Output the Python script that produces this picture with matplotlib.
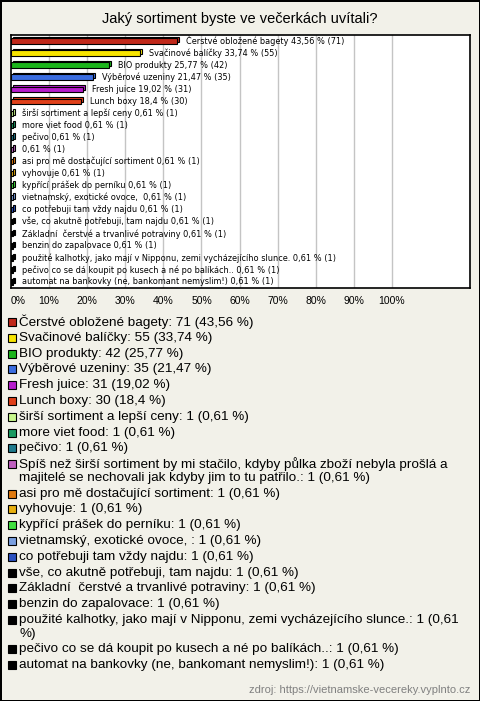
import matplotlib
matplotlib.use("Agg")
from matplotlib import pyplot as plt
from matplotlib.transforms import offset_copy

plt.rcParams['font.family'] = ['Liberation Sans', 'DejaVu Sans']

title = 'Jaký sortiment byste ve večerkách uvítali?'
source = 'zdroj: https://vietnamske-vecereky.vyplnto.cz'

labels = [
    'Čerstvé obložené bagety',
    'Svačinové balíčky',
    'BIO produkty',
    'Výběrové uzeniny',
    'Fresh juice',
    'Lunch boxy',
    'širší sortiment a lepší ceny',
    'more viet food',
    'pečivo',
    'Spíš než širší sortiment by mi stačilo, kdyby půlka zboží nebyla prošlá a majitelé se nechovali jak kdyby jim to tu patřilo.',
    'asi pro mě dostačující sortiment',
    'vyhovuje',
    'kypřící prášek do perníku',
    'vietnamský, exotické ovoce, ',
    'co potřebuji tam vždy najdu',
    'vše, co akutně potřebuji, tam najdu',
    'Základní  čerstvé a trvanlivé potraviny',
    'benzin do zapalovace',
    'použité kalhotky, jako mají v Nipponu, zemi vycházejícího slunce.',
    'pečivo co se dá koupit po kusech a né po balíkách..',
    'automat na bankovky (ne, bankomant nemyslim!)',
]
# labels shown next to the bars (one answer has no text there)
bar_labels = labels[:9] + [''] + labels[10:]
counts = [71, 55, 42, 35, 31, 30] + [1] * 15
percents = [43.56, 33.74, 25.77, 21.47, 19.02, 18.4] + [0.61] * 15
colors = ['#c0281a', '#f7e400', '#1cb51c', '#3b6de0', '#b51ccb', '#e0401a',
          '#c8f88c', '#1a9a62', '#1f7a8c', '#c060c0', '#e07a10', '#e8b010',
          '#40e040', '#7a9fe0', '#2a50c0'] + ['#000000'] * 6
ticks = [0, 10, 20, 30, 40, 50, 60, 70, 80, 90, 100]

W, H = 480, 701
bg = '#f2f1e9'


def fmt(p):
    return f'{p:g}'.replace('.', ',')


def px(x, y):
    return x / W, 1 - y / H


fig = plt.figure(figsize=(W / 100, H / 100), dpi=100, facecolor=bg)
fig.patch.set_edgecolor('black')
fig.patch.set_linewidth(2)

ax = fig.add_axes([11 / W, 1 - 288 / H, 459 / W, 253 / H])
ax.set_facecolor('white')
n = len(labels)
ypos = list(range(n))

# fake 3d: back copy shifted up-right, front face on top
back = offset_copy(ax.transData, fig=fig, x=2, y=1.5, units='dots')
ax.barh(ypos, percents, height=0.45, color=colors, edgecolor='black',
        linewidth=0.8, transform=back, zorder=3)
ax.barh(ypos, percents, height=0.45, color=colors, edgecolor='black',
        linewidth=0.8, zorder=4)

lab_tr = offset_copy(ax.transData, fig=fig, x=9, y=0, units='dots')
for i in range(n):
    txt = f'{bar_labels[i]} {fmt(percents[i])} % ({counts[i]})'.strip()
    ax.text(percents[i], i, txt, transform=lab_tr, fontsize=5.9,
            family=['DejaVu Sans'], va='center', ha='left', zorder=5)

ax.set_xlim(0, 120.5)
ax.set_ylim(n - 0.5, -0.5)
ax.set_yticks([])
ax.set_xticks(ticks)
ax.set_xticklabels([f'{t}%' for t in ticks], fontsize=7.5)
ax.get_xticklabels()[0].set_ha('left')
ax.tick_params(axis='x', length=0, pad=6)
for t in ticks[1:]:
    ax.axvline(t, color='#c4c4c4', linewidth=1, zorder=1)
for s in ax.spines.values():
    s.set_linewidth(1.2)

fig.text(*px(240, 19), title, fontsize=10.5, ha='center', va='center')

# legend below the chart
renderer = fig.canvas.get_renderer()
max_w = 440
y = 322
for i in range(n):
    entry = f'{labels[i]}: {counts[i]} ({fmt(percents[i])} %)'
    words = entry.split(' ')
    lines, cur = [], ''
    for w in words:
        trial = w if cur == '' else cur + ' ' + w
        t = fig.text(0, 0, trial, fontsize=9.7)
        width = t.get_window_extent(renderer).width
        t.remove()
        if width > max_w and cur:
            lines.append(cur)
            cur = w
        else:
            cur = trial
    lines.append(cur)
    fig.patches.append(plt.Rectangle(px(8, y + 4), 8 / W, 8 / H,
                                     transform=fig.transFigure,
                                     facecolor=colors[i], edgecolor='black',
                                     linewidth=0.8))
    for k, line in enumerate(lines):
        fig.text(*px(19, y + k * 13.6), line, fontsize=9.7, ha='left',
                 va='center')
    y += len(lines) * 13.6 + 2.2

fig.text(*px(470, 690), source, fontsize=8, color='#808080', ha='right',
         va='center')

fig.savefig('out.png', dpi=100, facecolor=bg, edgecolor='black')
